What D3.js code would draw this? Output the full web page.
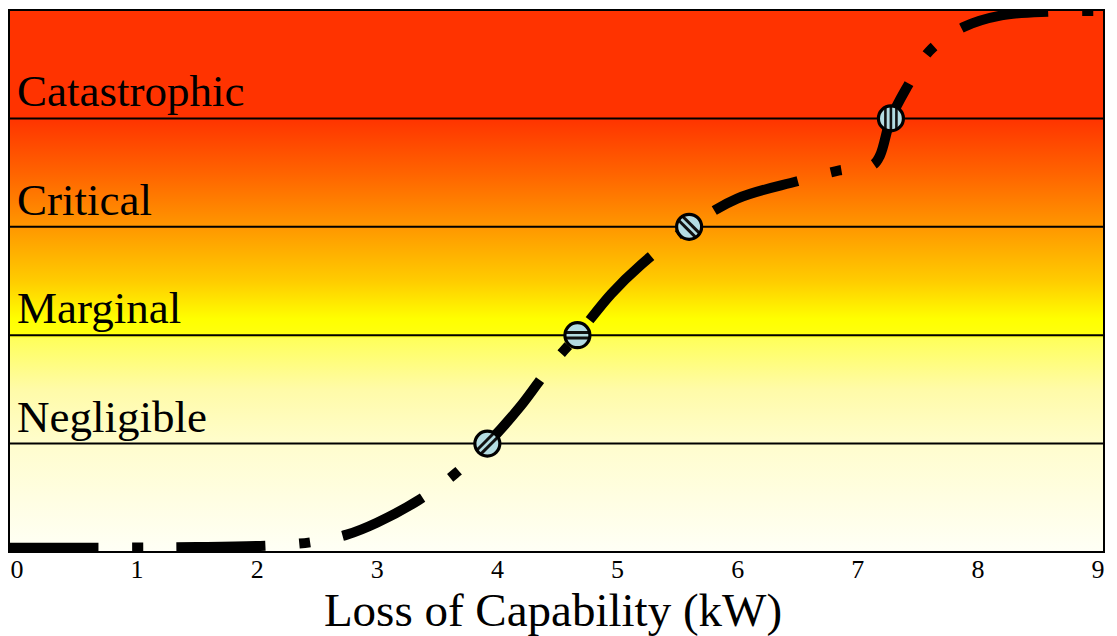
<!DOCTYPE html>
<html>
<head>
<meta charset="utf-8">
<script src="https://cdn.jsdelivr.net/npm/d3@7"></script>
<style>
  html, body { margin: 0; padding: 0; background: #fff; }
  svg { display: block; }
</style>
</head>
<body>
<svg id="chart" width="1117" height="636"></svg>
<script>
// ---- data ----
const severityLevels = ["Negligible", "Marginal", "Critical", "Catastrophic"];
const severityValues = [1, 2, 3, 4];
const xTicks = [0, 1, 2, 3, 4, 5, 6, 7, 8, 9];
const curveX = [-0.06, 0.7, 1.5, 2.1, 2.45, 2.75, 3.0, 3.35, 3.65, 3.92, 4.2, 4.45, 4.67, 4.95, 5.2, 5.6, 6.0, 6.5, 6.85, 7.13, 7.19, 7.28, 7.42, 7.6, 7.88, 8.2, 8.6, 9.0];
const curveY = [0.04, 0.04, 0.045, 0.06, 0.09, 0.16, 0.27, 0.48, 0.72, 1.0, 1.35, 1.72, 2.0, 2.38, 2.65, 3.0, 3.26, 3.42, 3.52, 3.57, 3.66, 4.0, 4.3, 4.62, 4.84, 4.95, 4.985, 4.99];
const markerX = [3.92, 4.67, 5.6, 7.28];
const markerY = [1, 2, 3, 4];
const markerStripeAngle = [-45, 0, 45, 90];
const xTitle = "Loss of Capability (kW)";

// ---- layout ----
const svg = d3.select("#chart");
const frame = {left: 9, right: 1104, top: 10, bottom: 552};
const x = d3.scaleLinear().domain([0, 9]).range([16.5, 1097.5]);
const y = d3.scaleLinear().domain([0, 5]).range([frame.bottom, frame.top]);

const defs = svg.append("defs");
const grad = defs.append("linearGradient")
  .attr("id", "bg").attr("gradientUnits", "userSpaceOnUse")
  .attr("x1", 0).attr("x2", 0).attr("y1", frame.top).attr("y2", frame.bottom);
const stops = [
  [0, "#FF3300"], [0.199, "#FF3300"], [0.30, "#FF6300"], [0.402, "#FF9800"],
  [0.50, "#FFCC00"], [0.57, "#FFFF00"], [0.601, "#FFFF10"], [0.606, "#FFFF5A"],
  [0.70, "#FFFBA8"], [0.803, "#FFFDCE"], [1, "#FFFFF6"]
];
grad.selectAll("stop").data(stops).join("stop")
  .attr("offset", d => d[0]).attr("stop-color", d => d[1]);

defs.append("clipPath").attr("id", "plotclip").append("rect")
  .attr("x", frame.left).attr("y", frame.top)
  .attr("width", frame.right - frame.left).attr("height", frame.bottom - frame.top);

// background
svg.append("rect")
  .attr("x", frame.left).attr("y", frame.top)
  .attr("width", frame.right - frame.left).attr("height", frame.bottom - frame.top)
  .attr("fill", "url(#bg)");

// severity lines
svg.append("g").selectAll("line").data(severityValues).join("line")
  .attr("x1", frame.left).attr("x2", frame.right)
  .attr("y1", d => y(d)).attr("y2", d => y(d))
  .attr("stroke", "#000").attr("stroke-width", 2);

// severity labels
svg.append("g").selectAll("text").data(severityLevels).join("text")
  .attr("x", 17)
  .attr("y", (d, i) => y(severityValues[i]) - 12)
  .attr("font-family", "Liberation Serif, Times New Roman, serif")
  .attr("font-size", 45)
  .attr("fill", "#000")
  .text(d => d);

// curve
const pts = curveX.map((v, i) => [v, curveY[i]]);
const line = d3.line().x(d => x(d[0])).y(d => y(d[1])).curve(d3.curveCatmullRom.alpha(0.5));
svg.append("path")
  .attr("clip-path", "url(#plotclip)")
  .attr("d", line(pts))
  .attr("fill", "none")
  .attr("stroke", "#000")
  .attr("stroke-width", 10)
  .attr("stroke-dasharray", "89,34,11,33");

// markers
const mg = svg.append("g");
markerX.forEach((mx, i) => {
  const cx = x(mx), cy = y(markerY[i]);
  const r = 12.5;
  const cid = "mclip" + i;
  defs.append("clipPath").attr("id", cid).append("circle").attr("cx", cx).attr("cy", cy).attr("r", r);
  const g = mg.append("g");
  g.append("circle").attr("cx", cx).attr("cy", cy).attr("r", r).attr("fill", "#B4DCE2");
  const sg = g.append("g").attr("clip-path", `url(#${cid})`)
    .append("g").attr("transform", `translate(${cx},${cy}) rotate(${markerStripeAngle[i]})`);
  const offs = i === 3 ? [-5.5, 0, 5.5] : [-2.8, 2.8];
  sg.selectAll("line").data(offs).join("line")
    .attr("x1", -r).attr("x2", r).attr("y1", d => d).attr("y2", d => d)
    .attr("stroke", "#111").attr("stroke-width", i === 3 ? 2.6 : 3);
  g.append("circle").attr("cx", cx).attr("cy", cy).attr("r", r)
    .attr("fill", "none").attr("stroke", "#000").attr("stroke-width", 3.2);
});

// frame
svg.append("rect")
  .attr("x", frame.left).attr("y", frame.top)
  .attr("width", frame.right - frame.left).attr("height", frame.bottom - frame.top)
  .attr("fill", "none").attr("stroke", "#000").attr("stroke-width", 2);

// x axis (labels only)
const xAxis = d3.axisBottom(x).tickValues(xTicks).tickSize(0).tickPadding(0).tickFormat(d3.format("d"));
const ax = svg.append("g").attr("transform", `translate(0,${frame.bottom + 8})`).call(xAxis);
ax.select(".domain").remove();
ax.selectAll("text")
  .attr("font-family", "Liberation Serif, Times New Roman, serif")
  .attr("font-size", 26)
  .attr("fill", "#000")
  .attr("dy", "0.71em");

svg.append("text")
  .attr("x", 553).attr("y", 626)
  .attr("text-anchor", "middle")
  .attr("font-family", "Liberation Serif, Times New Roman, serif")
  .attr("font-size", 47)
  .attr("fill", "#000")
  .text(xTitle);
</script>
</body>
</html>
